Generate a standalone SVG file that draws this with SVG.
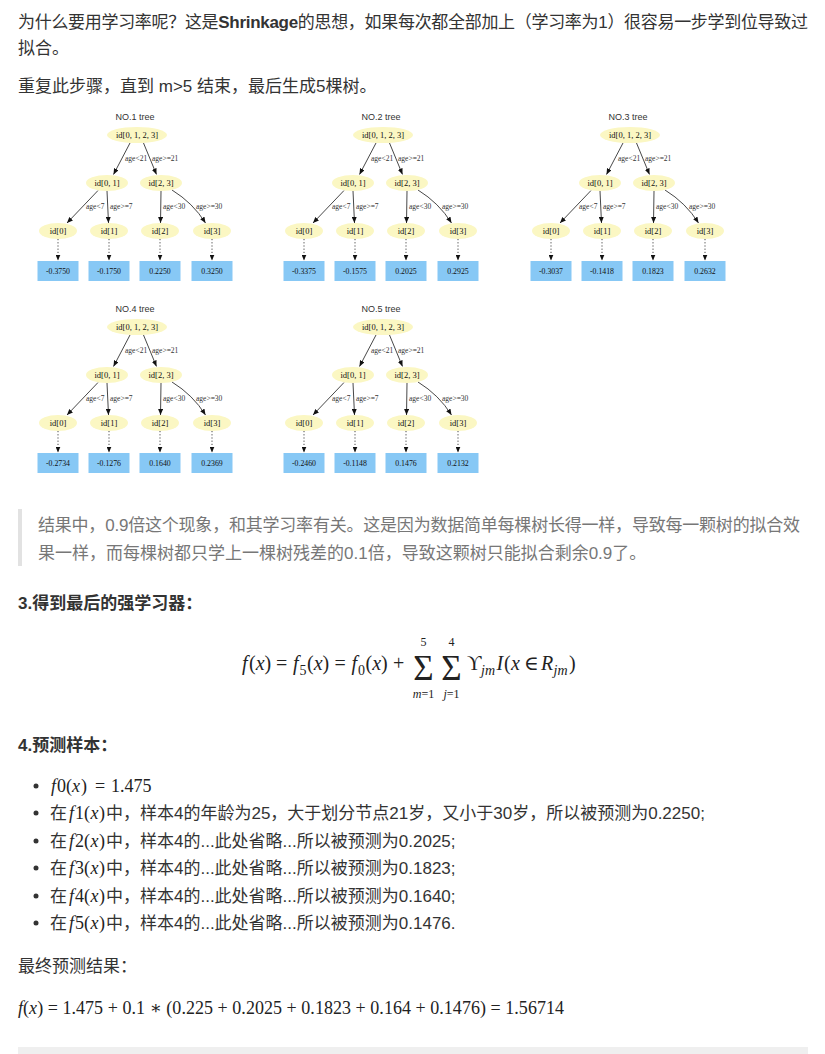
<svg xmlns="http://www.w3.org/2000/svg" width="825" height="1054" viewBox="0 0 825 1054">
<style>
.t{font-family:'Liberation Sans','Noto Sans CJK SC',sans-serif;font-size:17px;fill:#333}
.b{font-weight:bold}
.q{fill:#777}
.m{font-family:'Liberation Serif','DejaVu Serif',serif;font-size:20px;fill:#222}
.ms{font-family:'Liberation Serif','DejaVu Serif',serif;font-size:18px;fill:#222}
.sub{font-family:'Liberation Serif','DejaVu Serif',serif;font-size:14px;fill:#222}
.op{font-family:'Liberation Serif','DejaVu Serif',serif;fill:#222;text-anchor:middle}
.lim{font-size:12px}
.sig{font-size:35px}
.i{font-style:italic}
.el{fill:#fbf7c3}
.lf{fill:#87c8f5}
.nt{font-family:'Liberation Serif',serif;font-size:8.5px;fill:#111;text-anchor:middle}
.lt{font-size:7.8px}
.tt{font-family:'Liberation Sans',sans-serif;font-size:9px;fill:#333;text-anchor:middle}
.ed{stroke:#333;stroke-width:0.9;fill:none;marker-end:url(#ah)}
.dt{stroke-dasharray:1.2 2}
.lb{font-family:'Liberation Serif',serif;font-size:7.5px;fill:#333}
</style>
<defs>
<marker id="ah" markerUnits="userSpaceOnUse" markerWidth="6" markerHeight="5" refX="6" refY="2.5" orient="auto">
<path d="M0,0 L6,2.5 L0,5 z" fill="#111"/>
</marker>
<g id="edgeset">
<path class="ed" d="M130,143 L113.5,174.5"/>
<path class="ed" d="M143.5,143 L156.5,174.5"/>
<path class="ed" d="M98,190.5 L67,223"/>
<path class="ed" d="M107,191 L108.5,223"/>
<path class="ed" d="M161,191 L160.5,223"/>
<path class="ed" d="M172,190 Q193,203 205.5,223"/>
<path class="ed dt" d="M58,239 L58,260.5"/>
<path class="ed dt" d="M109,239 L109,260.5"/>
<path class="ed dt" d="M160,239 L160,260.5"/>
<path class="ed dt" d="M212,239 L212,260.5"/>
<text class="lb" x="125" y="161">age&lt;21</text>
<text class="lb" x="152" y="161">age&gt;=21</text>
<text class="lb" x="86" y="209">age&lt;7</text>
<text class="lb" x="110" y="209">age&gt;=7</text>
<text class="lb" x="163" y="209">age&lt;30</text>
<text class="lb" x="196" y="209">age&gt;=30</text>
</g>
</defs>

<g id="text">
<text class="t" x="18" y="28" textLength="790" lengthAdjust="spacing">为什么要用学习率呢？这是<tspan class="b">Shrinkage</tspan>的思想，如果每次都全部加上（学习率为1）很容易一步学到位导致过</text>
<text class="t" x="18" y="54">拟合。</text>
<text class="t" x="18" y="92">重复此步骤，直到 m&gt;5 结束，最后生成5棵树。</text>
</g>

<g id="connectors">
<use href="#edgeset"/>
<use href="#edgeset" transform="translate(246,0)"/>
<use href="#edgeset" transform="translate(493,0)"/>
<use href="#edgeset" transform="translate(0,192)"/>
<use href="#edgeset" transform="translate(246,192)"/>
</g>

<g id="tree1">
<text class="tt" x="135" y="120">NO.1 tree</text>
<g id="t1-root"><ellipse class="el" cx="137" cy="135" rx="30" ry="8"/><text class="nt" x="137" y="138">id[0, 1, 2, 3]</text></g>
<g id="t1-n01"><ellipse class="el" cx="107" cy="183" rx="21" ry="8"/><text class="nt" x="107" y="186">id[0, 1]</text></g>
<g id="t1-n23"><ellipse class="el" cx="161" cy="183" rx="21" ry="8"/><text class="nt" x="161" y="186">id[2, 3]</text></g>
<g id="t1-n0"><ellipse class="el" cx="58" cy="231" rx="19" ry="8"/><text class="nt" x="58" y="234">id[0]</text></g>
<g id="t1-n1"><ellipse class="el" cx="109" cy="231" rx="19" ry="8"/><text class="nt" x="109" y="234">id[1]</text></g>
<g id="t1-n2"><ellipse class="el" cx="160" cy="231" rx="19" ry="8"/><text class="nt" x="160" y="234">id[2]</text></g>
<g id="t1-n3"><ellipse class="el" cx="212" cy="231" rx="19" ry="8"/><text class="nt" x="212" y="234">id[3]</text></g>
<g id="t1-l0"><rect class="lf" x="37.5" y="261" width="41" height="20"/><text class="nt lt" x="58" y="273.5">-0.3750</text></g>
<g id="t1-l1"><rect class="lf" x="88.5" y="261" width="41" height="20"/><text class="nt lt" x="109" y="273.5">-0.1750</text></g>
<g id="t1-l2"><rect class="lf" x="139.5" y="261" width="41" height="20"/><text class="nt lt" x="160" y="273.5">0.2250</text></g>
<g id="t1-l3"><rect class="lf" x="191.5" y="261" width="41" height="20"/><text class="nt lt" x="212" y="273.5">0.3250</text></g>
</g>

<g id="tree2" transform="translate(246,0)">
<text class="tt" x="135" y="120">NO.2 tree</text>
<g id="t2-root"><ellipse class="el" cx="137" cy="135" rx="30" ry="8"/><text class="nt" x="137" y="138">id[0, 1, 2, 3]</text></g>
<g id="t2-n01"><ellipse class="el" cx="107" cy="183" rx="21" ry="8"/><text class="nt" x="107" y="186">id[0, 1]</text></g>
<g id="t2-n23"><ellipse class="el" cx="161" cy="183" rx="21" ry="8"/><text class="nt" x="161" y="186">id[2, 3]</text></g>
<g id="t2-n0"><ellipse class="el" cx="58" cy="231" rx="19" ry="8"/><text class="nt" x="58" y="234">id[0]</text></g>
<g id="t2-n1"><ellipse class="el" cx="109" cy="231" rx="19" ry="8"/><text class="nt" x="109" y="234">id[1]</text></g>
<g id="t2-n2"><ellipse class="el" cx="160" cy="231" rx="19" ry="8"/><text class="nt" x="160" y="234">id[2]</text></g>
<g id="t2-n3"><ellipse class="el" cx="212" cy="231" rx="19" ry="8"/><text class="nt" x="212" y="234">id[3]</text></g>
<g id="t2-l0"><rect class="lf" x="37.5" y="261" width="41" height="20"/><text class="nt lt" x="58" y="273.5">-0.3375</text></g>
<g id="t2-l1"><rect class="lf" x="88.5" y="261" width="41" height="20"/><text class="nt lt" x="109" y="273.5">-0.1575</text></g>
<g id="t2-l2"><rect class="lf" x="139.5" y="261" width="41" height="20"/><text class="nt lt" x="160" y="273.5">0.2025</text></g>
<g id="t2-l3"><rect class="lf" x="191.5" y="261" width="41" height="20"/><text class="nt lt" x="212" y="273.5">0.2925</text></g>
</g>

<g id="tree3" transform="translate(493,0)">
<text class="tt" x="135" y="120">NO.3 tree</text>
<g id="t3-root"><ellipse class="el" cx="137" cy="135" rx="30" ry="8"/><text class="nt" x="137" y="138">id[0, 1, 2, 3]</text></g>
<g id="t3-n01"><ellipse class="el" cx="107" cy="183" rx="21" ry="8"/><text class="nt" x="107" y="186">id[0, 1]</text></g>
<g id="t3-n23"><ellipse class="el" cx="161" cy="183" rx="21" ry="8"/><text class="nt" x="161" y="186">id[2, 3]</text></g>
<g id="t3-n0"><ellipse class="el" cx="58" cy="231" rx="19" ry="8"/><text class="nt" x="58" y="234">id[0]</text></g>
<g id="t3-n1"><ellipse class="el" cx="109" cy="231" rx="19" ry="8"/><text class="nt" x="109" y="234">id[1]</text></g>
<g id="t3-n2"><ellipse class="el" cx="160" cy="231" rx="19" ry="8"/><text class="nt" x="160" y="234">id[2]</text></g>
<g id="t3-n3"><ellipse class="el" cx="212" cy="231" rx="19" ry="8"/><text class="nt" x="212" y="234">id[3]</text></g>
<g id="t3-l0"><rect class="lf" x="37.5" y="261" width="41" height="20"/><text class="nt lt" x="58" y="273.5">-0.3037</text></g>
<g id="t3-l1"><rect class="lf" x="88.5" y="261" width="41" height="20"/><text class="nt lt" x="109" y="273.5">-0.1418</text></g>
<g id="t3-l2"><rect class="lf" x="139.5" y="261" width="41" height="20"/><text class="nt lt" x="160" y="273.5">0.1823</text></g>
<g id="t3-l3"><rect class="lf" x="191.5" y="261" width="41" height="20"/><text class="nt lt" x="212" y="273.5">0.2632</text></g>
</g>

<g id="tree4" transform="translate(0,192)">
<text class="tt" x="135" y="120">NO.4 tree</text>
<g id="t4-root"><ellipse class="el" cx="137" cy="135" rx="30" ry="8"/><text class="nt" x="137" y="138">id[0, 1, 2, 3]</text></g>
<g id="t4-n01"><ellipse class="el" cx="107" cy="183" rx="21" ry="8"/><text class="nt" x="107" y="186">id[0, 1]</text></g>
<g id="t4-n23"><ellipse class="el" cx="161" cy="183" rx="21" ry="8"/><text class="nt" x="161" y="186">id[2, 3]</text></g>
<g id="t4-n0"><ellipse class="el" cx="58" cy="231" rx="19" ry="8"/><text class="nt" x="58" y="234">id[0]</text></g>
<g id="t4-n1"><ellipse class="el" cx="109" cy="231" rx="19" ry="8"/><text class="nt" x="109" y="234">id[1]</text></g>
<g id="t4-n2"><ellipse class="el" cx="160" cy="231" rx="19" ry="8"/><text class="nt" x="160" y="234">id[2]</text></g>
<g id="t4-n3"><ellipse class="el" cx="212" cy="231" rx="19" ry="8"/><text class="nt" x="212" y="234">id[3]</text></g>
<g id="t4-l0"><rect class="lf" x="37.5" y="261" width="41" height="20"/><text class="nt lt" x="58" y="273.5">-0.2734</text></g>
<g id="t4-l1"><rect class="lf" x="88.5" y="261" width="41" height="20"/><text class="nt lt" x="109" y="273.5">-0.1276</text></g>
<g id="t4-l2"><rect class="lf" x="139.5" y="261" width="41" height="20"/><text class="nt lt" x="160" y="273.5">0.1640</text></g>
<g id="t4-l3"><rect class="lf" x="191.5" y="261" width="41" height="20"/><text class="nt lt" x="212" y="273.5">0.2369</text></g>
</g>

<g id="tree5" transform="translate(246,192)">
<text class="tt" x="135" y="120">NO.5 tree</text>
<g id="t5-root"><ellipse class="el" cx="137" cy="135" rx="30" ry="8"/><text class="nt" x="137" y="138">id[0, 1, 2, 3]</text></g>
<g id="t5-n01"><ellipse class="el" cx="107" cy="183" rx="21" ry="8"/><text class="nt" x="107" y="186">id[0, 1]</text></g>
<g id="t5-n23"><ellipse class="el" cx="161" cy="183" rx="21" ry="8"/><text class="nt" x="161" y="186">id[2, 3]</text></g>
<g id="t5-n0"><ellipse class="el" cx="58" cy="231" rx="19" ry="8"/><text class="nt" x="58" y="234">id[0]</text></g>
<g id="t5-n1"><ellipse class="el" cx="109" cy="231" rx="19" ry="8"/><text class="nt" x="109" y="234">id[1]</text></g>
<g id="t5-n2"><ellipse class="el" cx="160" cy="231" rx="19" ry="8"/><text class="nt" x="160" y="234">id[2]</text></g>
<g id="t5-n3"><ellipse class="el" cx="212" cy="231" rx="19" ry="8"/><text class="nt" x="212" y="234">id[3]</text></g>
<g id="t5-l0"><rect class="lf" x="37.5" y="261" width="41" height="20"/><text class="nt lt" x="58" y="273.5">-0.2460</text></g>
<g id="t5-l1"><rect class="lf" x="88.5" y="261" width="41" height="20"/><text class="nt lt" x="109" y="273.5">-0.1148</text></g>
<g id="t5-l2"><rect class="lf" x="139.5" y="261" width="41" height="20"/><text class="nt lt" x="160" y="273.5">0.1476</text></g>
<g id="t5-l3"><rect class="lf" x="191.5" y="261" width="41" height="20"/><text class="nt lt" x="212" y="273.5">0.2132</text></g>
</g>

<g id="quote">
<rect x="18" y="509" width="4" height="57" fill="#e2e2e2"/>
<text class="t q" x="38" y="531" textLength="762" lengthAdjust="spacing">结果中，0.9倍这个现象，和其学习率有关。这是因为数据简单每棵树长得一样，导致每一颗树的拟合效</text>
<text class="t q" x="38" y="559">果一样，而每棵树都只学上一棵树残差的0.1倍，导致这颗树只能拟合剩余0.9了。</text>
</g>

<g id="section3">
<text class="t b" x="18" y="609">3.得到最后的强学习器：</text>
<text class="m" y="670"><tspan x="242" class="i">f</tspan><tspan x="249">(</tspan><tspan x="255.7" class="i">x</tspan><tspan x="264.6">)</tspan><tspan x="276">=</tspan><tspan x="293" class="i">f</tspan><tspan x="307">(</tspan><tspan x="313.7" class="i">x</tspan><tspan x="322.6">)</tspan><tspan x="334.5">=</tspan><tspan x="351.5" class="i">f</tspan><tspan x="365.5">(</tspan><tspan x="372.2" class="i">x</tspan><tspan x="381.1">)</tspan><tspan x="393">+</tspan><tspan x="467">ϒ</tspan><tspan x="496.5" class="i">I</tspan><tspan x="504">(</tspan><tspan x="511" class="i">x</tspan><tspan x="524">∈</tspan><tspan x="541" class="i">R</tspan><tspan x="569">)</tspan></text>
<text class="sub" y="675"><tspan x="299.5">5</tspan><tspan x="358">0</tspan><tspan x="481" class="i">jm</tspan><tspan x="553.5" class="i">jm</tspan></text>
<text class="op"><tspan class="lim" x="423.5" y="645.5">5</tspan><tspan class="sig" x="423.5" y="679.5">Σ</tspan><tspan class="lim" x="423.5" y="698"><tspan class="i">m</tspan>=1</tspan></text>
<text class="op"><tspan class="lim" x="451.5" y="645.5">4</tspan><tspan class="sig" x="451.5" y="679.5">Σ</tspan><tspan class="lim" x="451.5" y="698"><tspan class="i">j</tspan>=1</tspan></text>
</g>

<g id="section4">
<text class="t b" x="18" y="751">4.预测样本：</text>
<circle cx="36" cy="786" r="2.5" fill="#333"/>
<circle cx="36" cy="813" r="2.5" fill="#333"/>
<circle cx="36" cy="841" r="2.5" fill="#333"/>
<circle cx="36" cy="868" r="2.5" fill="#333"/>
<circle cx="36" cy="896" r="2.5" fill="#333"/>
<circle cx="36" cy="923" r="2.5" fill="#333"/>
<text class="ms" y="792"><tspan x="51" class="i">f</tspan><tspan x="57">0</tspan><tspan x="66">(</tspan><tspan x="72" class="i">x</tspan><tspan x="81">)</tspan><tspan x="95">=</tspan><tspan x="111">1.475</tspan></text>

<text class="t" x="50" y="819">在</text>
<text class="ms" y="819"><tspan x="69" class="i">f</tspan><tspan x="75">1</tspan><tspan x="84">(</tspan><tspan x="90.5" class="i">x</tspan><tspan x="99">)</tspan></text>
<text class="t" x="106" y="819">中，样本4的年龄为25，大于划分节点21岁，又小于30岁，所以被预测为0.2250;</text>

<text class="t" x="50" y="847">在</text>
<text class="ms" y="847"><tspan x="69" class="i">f</tspan><tspan x="75">2</tspan><tspan x="84">(</tspan><tspan x="90.5" class="i">x</tspan><tspan x="99">)</tspan></text>
<text class="t" x="106" y="847">中，样本4的...此处省略...所以被预测为0.2025;</text>

<text class="t" x="50" y="874">在</text>
<text class="ms" y="874"><tspan x="69" class="i">f</tspan><tspan x="75">3</tspan><tspan x="84">(</tspan><tspan x="90.5" class="i">x</tspan><tspan x="99">)</tspan></text>
<text class="t" x="106" y="874">中，样本4的...此处省略...所以被预测为0.1823;</text>

<text class="t" x="50" y="902">在</text>
<text class="ms" y="902"><tspan x="69" class="i">f</tspan><tspan x="75">4</tspan><tspan x="84">(</tspan><tspan x="90.5" class="i">x</tspan><tspan x="99">)</tspan></text>
<text class="t" x="106" y="902">中，样本4的...此处省略...所以被预测为0.1640;</text>

<text class="t" x="50" y="929">在</text>
<text class="ms" y="929"><tspan x="69" class="i">f</tspan><tspan x="75">5</tspan><tspan x="84">(</tspan><tspan x="90.5" class="i">x</tspan><tspan x="99">)</tspan></text>
<text class="t" x="106" y="929">中，样本4的...此处省略...所以被预测为0.1476.</text>
</g>

<g id="final">
<text class="t" x="18" y="972">最终预测结果：</text>
<text class="ms" x="18" y="1014" textLength="546" lengthAdjust="spacing"><tspan class="i">f</tspan>(<tspan class="i">x</tspan>) = 1.475 + 0.1 ∗ (0.225 + 0.2025 + 0.1823 + 0.164 + 0.1476) = 1.56714</text>
<rect x="18" y="1047" width="790" height="7" fill="#efefef"/>
</g>
</svg>
